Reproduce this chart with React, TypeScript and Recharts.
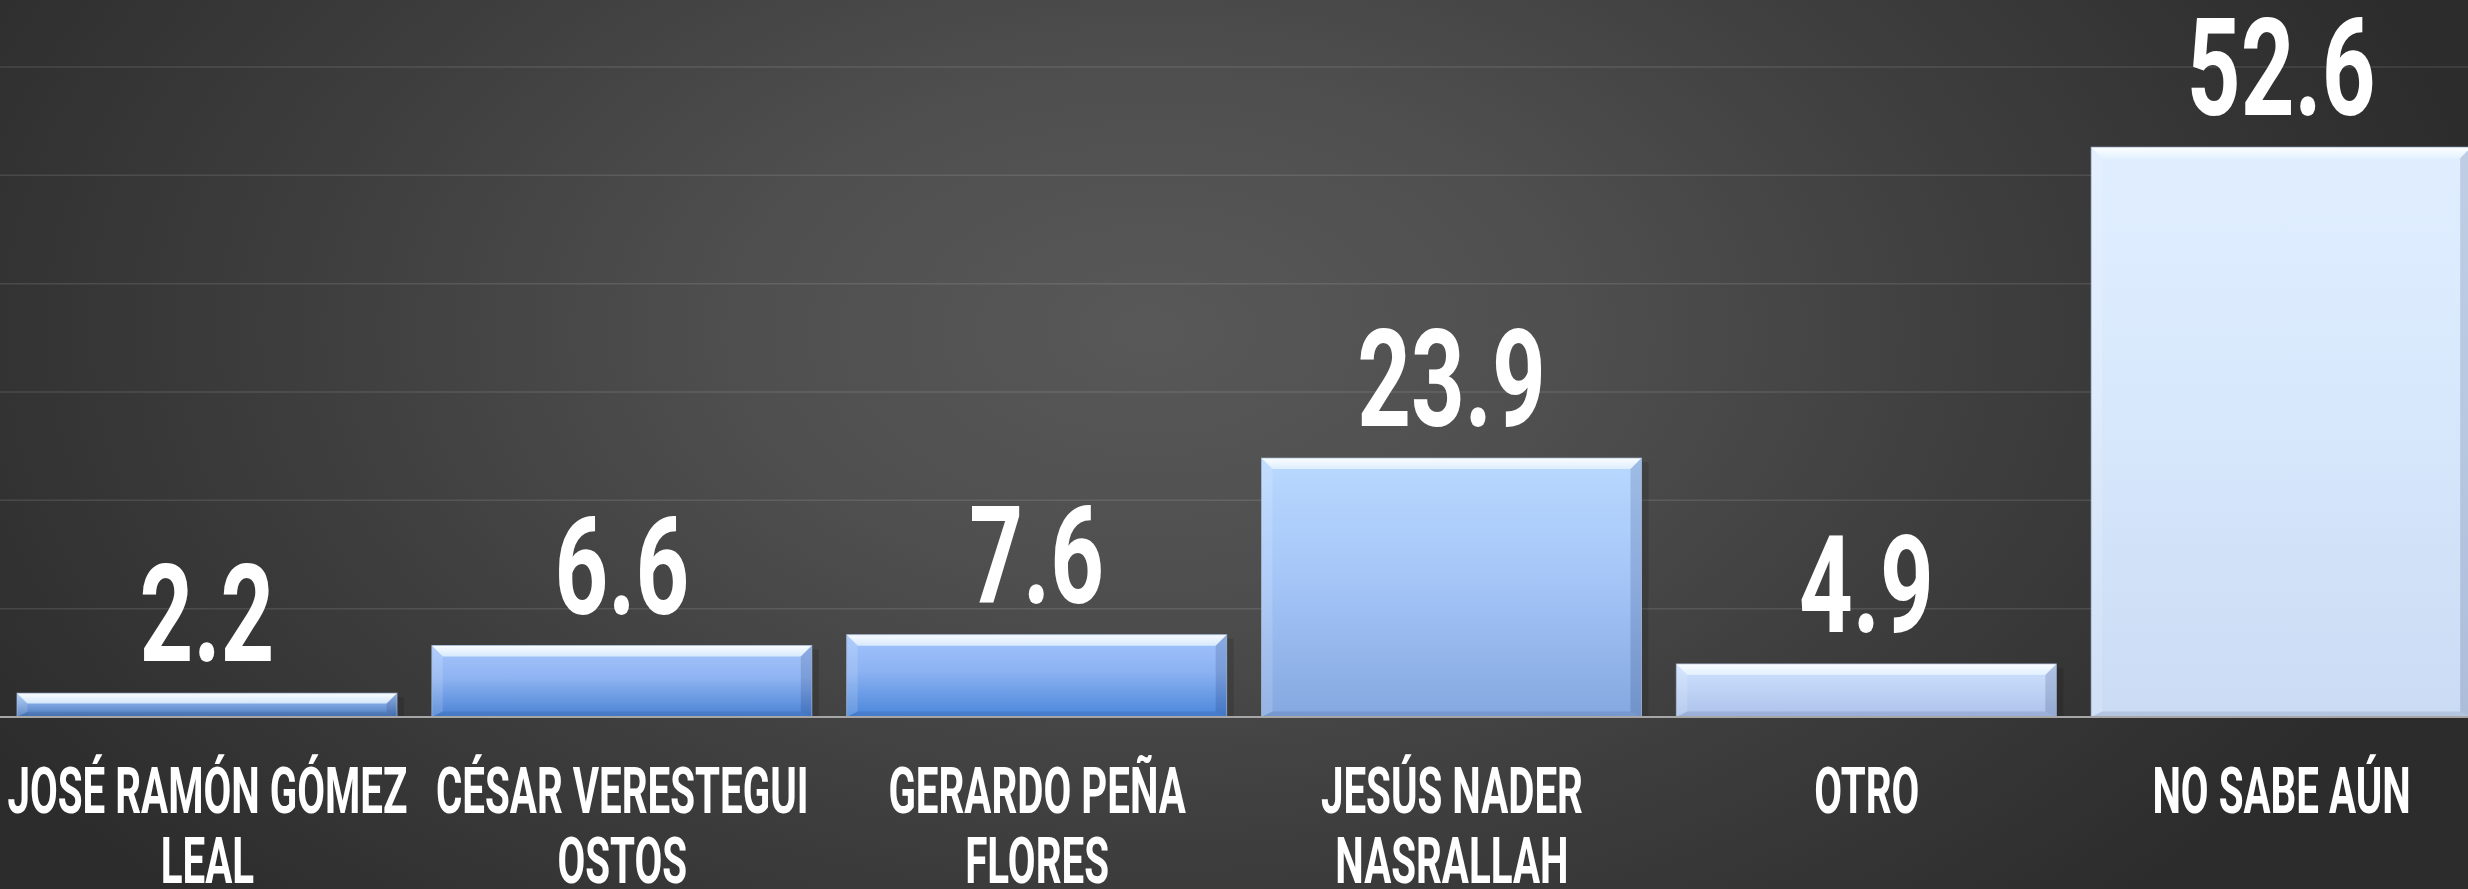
import React from 'react';
import { BarChart, Bar, XAxis, YAxis, CartesianGrid, LabelList } from 'recharts';

const categories = [
  'JOSÉ RAMÓN GÓMEZ\nLEAL',
  'CÉSAR VERESTEGUI\nOSTOS',
  'GERARDO PEÑA\nFLORES',
  'JESÚS NADER\nNASRALLAH',
  'OTRO',
  'NO SABE AÚN',
];
const values = [2.2, 6.6, 7.6, 23.9, 4.9, 52.6];
const yTicks = [0, 10, 20, 30, 40, 50, 60];

const barTopColors = ['#a8c8f6', '#a6c6fc', '#a2c4fc', '#b9d9ff', '#d0e2ff', '#e0eeff'];
const barMidColors = ['#7ea6e2', '#8fb4f2', '#8cb2f2', '#a6c6f8', '#c0d4f6', '#d8e8fc'];
const barBottomColors = ['#4a78ba', '#4a82d4', '#4a86da', '#84a8e0', '#adc2ea', '#cadbf4'];

const data = categories.map((name, i) => ({ name, value: values[i] }));

const BevelBar = (props: any) => {
  const { x, y, width, height, index } = props;
  if (!height || height <= 0) return null;
  const b = Math.min(11, height / 2.3);
  const x2 = x + width;
  const y2 = y + height;
  return (
    <g>
      <rect x={x + width} y={y + 4} width={7} height={height - 4} fill="rgba(0,0,0,0.12)" />
      <rect x={x} y={y} width={width} height={height} fill={`url(#barGrad${index})`} />
      <polygon
        points={`${x},${y} ${x2},${y} ${x2 - b},${y + b} ${x + b},${y + b}`}
        fill="url(#bevelTop)"
      />
      <polygon
        points={`${x},${y} ${x + b},${y + b} ${x + b},${y2 - b * 0.5} ${x},${y2}`}
        fill="rgba(255,255,255,0.14)"
      />
      <polygon
        points={`${x2},${y} ${x2},${y2} ${x2 - b},${y2 - b * 0.5} ${x2 - b},${y + b}`}
        fill="rgba(20,40,90,0.16)"
      />
      <polygon
        points={`${x},${y2} ${x2},${y2} ${x2 - b},${y2 - b * 0.5} ${x + b},${y2 - b * 0.5}`}
        fill="rgba(20,40,90,0.12)"
      />
      <rect x={x} y={y} width={width} height={height} fill="none" stroke="rgba(170,190,220,0.7)" strokeWidth={1} />
    </g>
  );
};

const ValueLabel = (props: any) => {
  const { x, y, width, value } = props;
  const cx = Number(x) + Number(width) / 2;
  return (
    <text
      transform={`translate(${cx},${Number(y) - 32}) scale(0.69,1)`}
      textAnchor="middle"
      fill="#ffffff"
      fontFamily="Roboto, 'Liberation Sans', sans-serif"
      fontWeight={700}
      fontSize={136}
    >
      {Number(value).toFixed(1)}
    </text>
  );
};

const NameTick = (props: any) => {
  const { x, y, payload } = props;
  const lines = String(payload.value).split('\n');
  return (
    <g>
      {lines.map((l, i) => (
        <text
          key={i}
          transform={`translate(${x},${y + 96 + i * 70}) scale(0.63,1)`}
          textAnchor="middle"
          fill="#ffffff"
          fontFamily="Roboto, 'Liberation Sans', sans-serif"
          fontWeight={700}
          fontSize={64}
        >
          {l}
        </text>
      ))}
    </g>
  );
};

export default function App() {
  return (
    <div
      style={{
        position: 'absolute',
        left: 0,
        top: 0,
        width: 2468,
        height: 889,
        overflow: 'hidden',
        background:
          'radial-gradient(ellipse 1350px 820px at 1150px 330px, #585858 0%, #4f4f4f 30%, #3e3e3e 62%, #2c2c2c 100%)',
      }}
    >
      <BarChart
        width={2489}
        height={889}
        data={data}
        margin={{ top: 67, right: 0, left: 0, bottom: 0 }}
        barSize={380}
      >
        <defs>
          {barTopColors.map((c, i) => (
            <linearGradient key={i} id={`barGrad${i}`} x1="0" y1="0" x2="0" y2="1">
              <stop offset="0%" stopColor={c} />
              <stop offset="45%" stopColor={barMidColors[i]} />
              <stop offset="100%" stopColor={barBottomColors[i]} />
            </linearGradient>
          ))}
          <linearGradient id="bevelTop" x1="0" y1="0" x2="0" y2="1">
            <stop offset="0%" stopColor="#ffffff" stopOpacity={0.95} />
            <stop offset="100%" stopColor="#e6f4ff" stopOpacity={0.8} />
          </linearGradient>
        </defs>
        <CartesianGrid vertical={false} stroke="rgba(255,255,255,0.11)" strokeWidth={1.5} />
        <YAxis hide domain={[0, 60]} ticks={yTicks} />
        <XAxis
          dataKey="name"
          height={172}
          interval={0}
          tickLine={false}
          tickSize={0}
          tickMargin={0}
          axisLine={{ stroke: '#a6a6a6', strokeWidth: 2 }}
          tick={<NameTick />}
        />
        <Bar dataKey="value" isAnimationActive={false} shape={<BevelBar />}>
          <LabelList dataKey="value" content={<ValueLabel />} />
        </Bar>
      </BarChart>
    </div>
  );
}
